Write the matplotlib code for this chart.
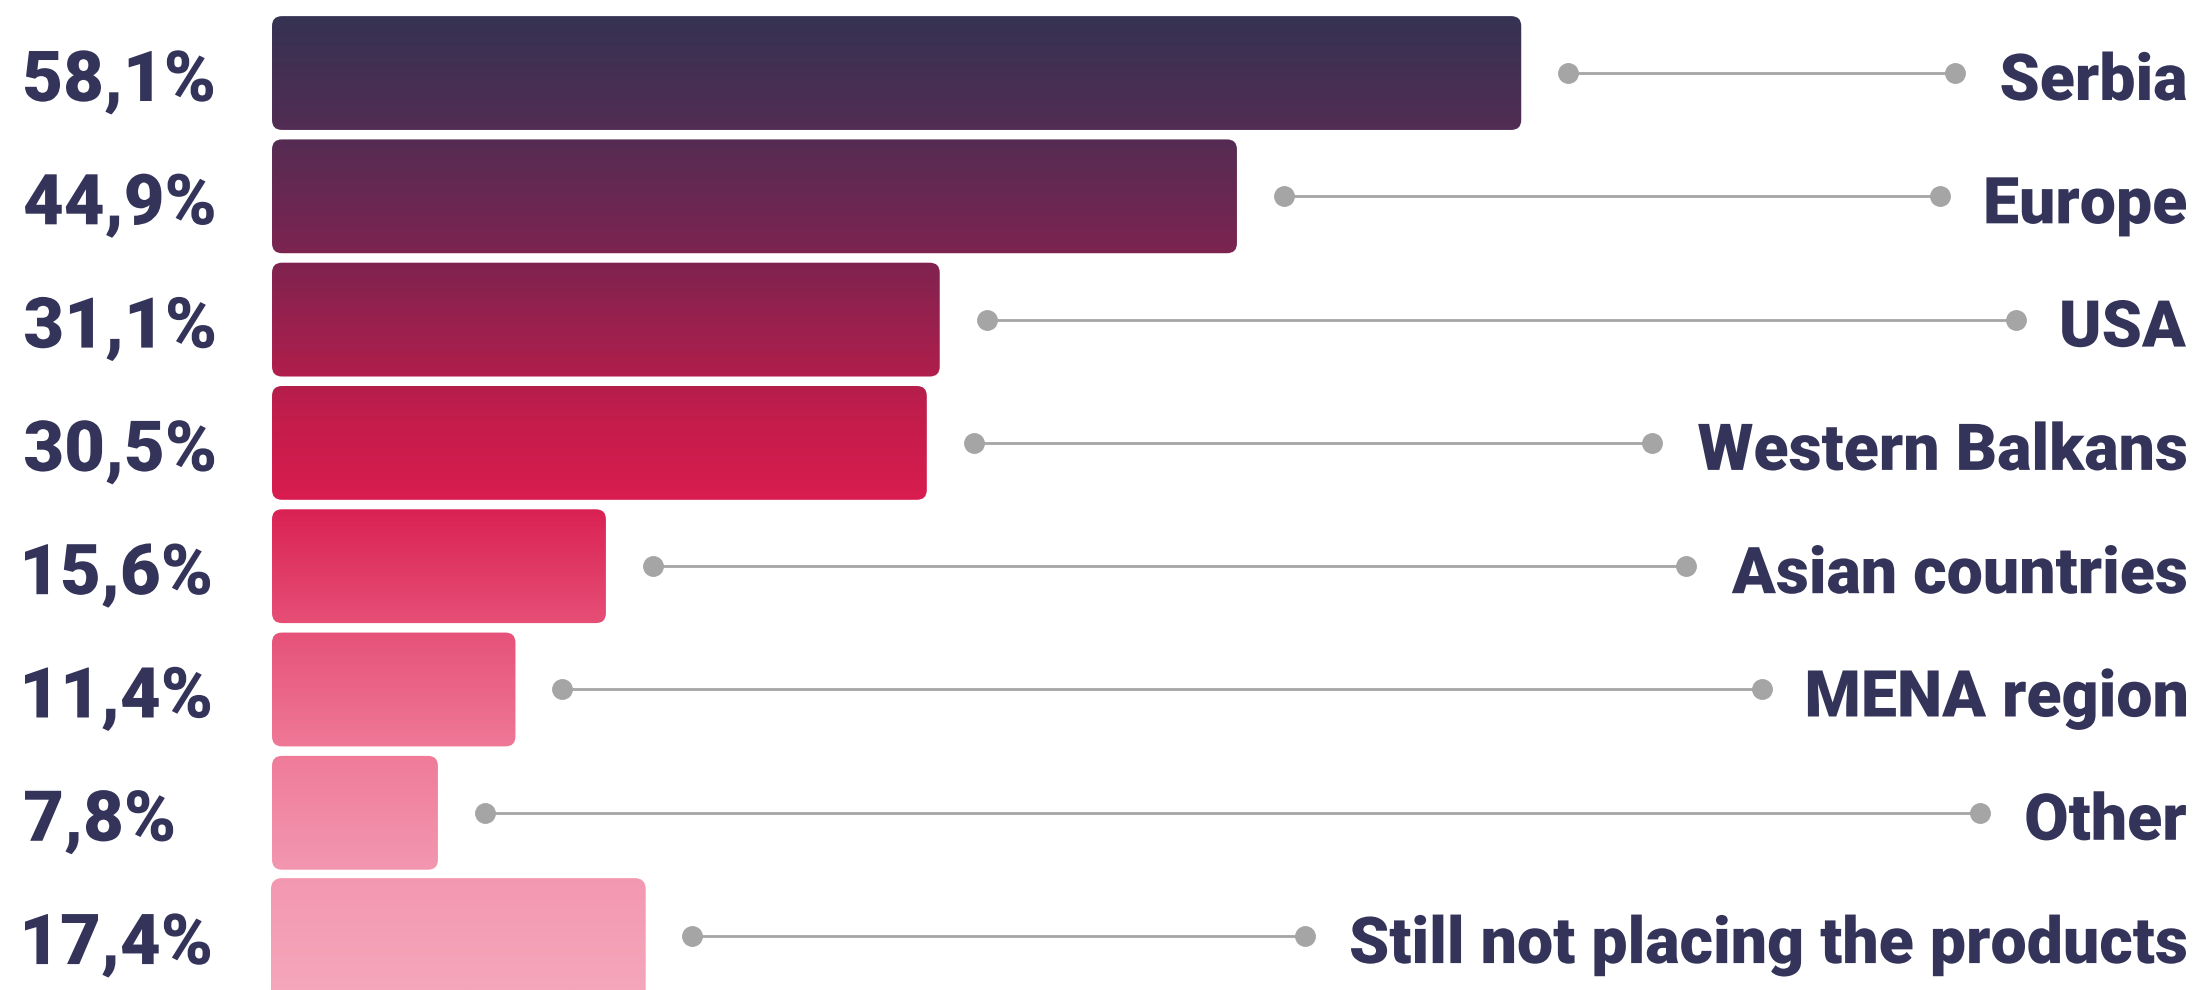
import numpy as np
import matplotlib
matplotlib.use("Agg")
import matplotlib.pyplot as plt
import matplotlib.transforms as mtrans
from matplotlib.patches import FancyBboxPatch, PathPatch
from matplotlib.colors import LinearSegmentedColormap
from matplotlib.textpath import TextPath
from matplotlib.font_manager import FontProperties

categories = ["Serbia", "Europe", "USA", "Western Balkans", "Asian countries",
              "MENA region", "Other", "Still not placing the products"]
values = [58.1, 44.9, 31.1, 30.5, 15.6, 11.4, 7.8, 17.4]
value_labels = ["58,1%", "44,9%", "31,1%", "30,5%", "15,6%", "11,4%", "7,8%", "17,4%"]

W, H, DPI = 2203, 990, 100
TEXT = "#34345a"
GREY = "#a5a5a5"

fig = plt.figure(figsize=(W / DPI, H / DPI), dpi=DPI)
ax = fig.add_axes([0, 0, 1, 1])
ax.set_axis_off()

# layout (fractions of the figure)
left_frac, first_right_frac = 0.123, 0.691
xunits = values[0] / (first_right_frac - left_frac)
ax.set_xlim(-left_frac * xunits, (1 - left_frac) * xunits)
pitch = 87.8 / 705
top_c = 52 / 705
ylo = -top_c / pitch
yhi = (1 - top_c) / pitch
ax.set_ylim(yhi, ylo)

px_x = W / xunits
px_y = H * pitch
bar_h = 0.94
r = 11 / px_x
aspect = px_x / px_y

cmap = LinearSegmentedColormap.from_list("g", [
    (0.00, "#323352"), (0.14, "#552c54"), (0.28, "#85224f"),
    (0.42, "#c21d4b"), (0.50, "#d81c4f"), (0.62, "#e54b74"),
    (0.76, "#ef7a98"), (0.88, "#f397b0"), (1.00, "#f5a6ba")])
grad = np.linspace(0, 1, 512).reshape(-1, 1)
xl = ax.get_xlim()

n = len(values)
for i, v in enumerate(values):
    last = (i == n - 1)
    patch = FancyBboxPatch((0, i - bar_h / 2), v, bar_h + (0.1 if last else 0),
                           boxstyle=f"round,pad=0,rounding_size={r}",
                           mutation_aspect=aspect,
                           facecolor="none",
                           edgecolor="none" if last else "white",
                           lw=0 if last else 1.5, zorder=3)
    ax.add_patch(patch)
    im = ax.imshow(grad, cmap=cmap, aspect="auto",
                   extent=(xl[0], xl[1], yhi, ylo), origin="upper", zorder=2)
    im.set_clip_path(patch)

ax.set_xlim(xl)
ax.set_ylim(yhi, ylo)

# text drawn as condensed heavy glyph outlines (pixel coordinates)
pix = mtrans.Affine2D().scale(1.0 / W, 1.0 / H) + fig.transFigure
fp = FontProperties(family=["Roboto", "DejaVu Sans"], weight=900)


def tpath(s):
    return TextPath((0, 0), s, size=100, prop=fp)


cap100 = tpath("H").get_extents().height


def row_center_px(i):
    return ax.transData.transform((0, i))[1] / fig.dpi * DPI


# percent labels
pct_cap = 50.0
pct_sy = pct_cap / cap100
pct_sx = 188.0 / tpath(value_labels[0]).get_extents().width
for i, lab in enumerate(value_labels):
    p = tpath(lab)
    ext = p.get_extents()
    yc = row_center_px(i) - 3
    tr = mtrans.Affine2D().scale(pct_sx, pct_sy).translate(25 - ext.x0 * pct_sx, yc - pct_cap / 2)
    ax.add_patch(PathPatch(tr.transform_path(p), transform=pix, facecolor=TEXT,
                           edgecolor="none", zorder=6, clip_on=False))

# category labels
lab_cap = 46.0
lab_sy = lab_cap / cap100
lab_sx = 835.0 / tpath(categories[-1]).get_extents().width
right_px = 2186
label_left = []
for i, c in enumerate(categories):
    p = tpath(c)
    ext = p.get_extents()
    yc = row_center_px(i) - 4
    x0 = right_px - ext.x1 * lab_sx
    tr = mtrans.Affine2D().scale(lab_sx, lab_sy).translate(x0, yc - lab_cap / 2)
    ax.add_patch(PathPatch(tr.transform_path(p), transform=pix, facecolor=TEXT,
                           edgecolor="none", zorder=6, clip_on=False))
    label_left.append(x0 + ext.x0 * lab_sx)

# connectors
for i, v in enumerate(values):
    x_start = v + 46 / px_x
    x_end = xl[0] + (label_left[i] - 46) / px_x
    ax.plot([x_start, x_end], [i, i], color=GREY, lw=2.0, zorder=4,
            solid_capstyle="butt")
    ax.plot([x_start, x_end], [i, i], ls="none", marker="o", ms=14,
            color=GREY, zorder=5)

fig.savefig("out.png", dpi=DPI, facecolor="white")
